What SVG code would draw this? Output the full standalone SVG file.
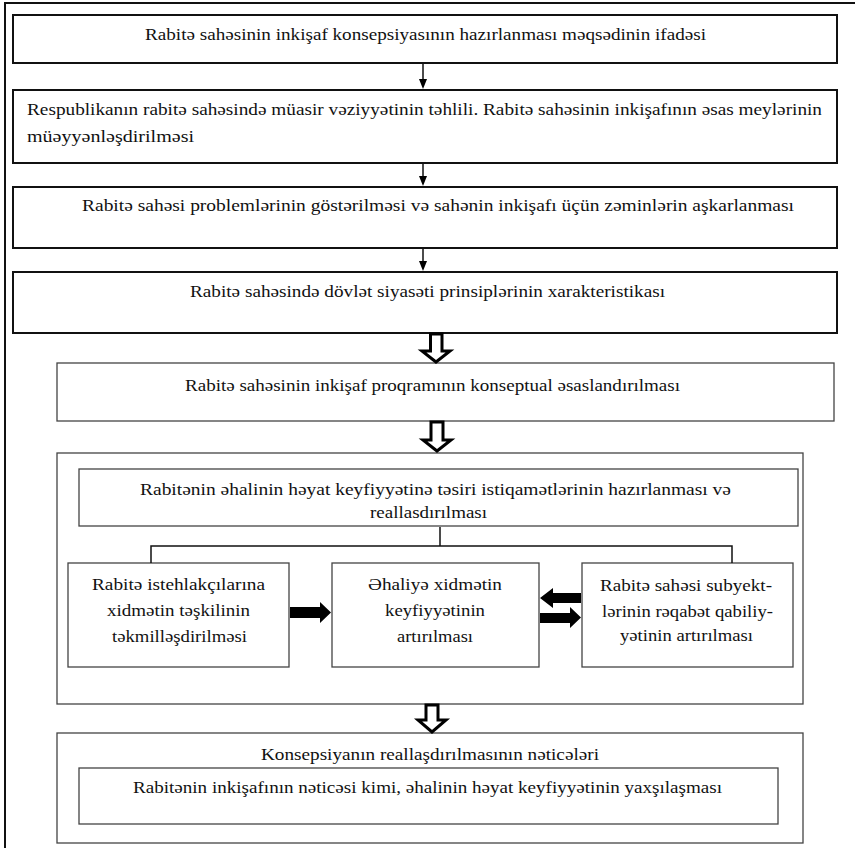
<svg xmlns="http://www.w3.org/2000/svg" width="855" height="852" viewBox="0 0 855 852">
<defs>
<style>
text{font-family:"Liberation Serif","Times New Roman",serif;font-size:17px;fill:#111;}
.b1{fill:#fff;stroke:#111;stroke-width:2;}
.b2{fill:#fff;stroke:#444;stroke-width:1.3;}
.b3{fill:none;stroke:#444;stroke-width:1.3;}
.ln{fill:none;stroke:#111;stroke-width:1.5;}
.ha{fill:#fff;stroke:#000;stroke-width:3;stroke-linejoin:miter;}
.fa{fill:#000;stroke:none;}
</style>
</defs>
<rect width="855" height="852" fill="#fff"/>
<g id="frame">
<path d="M5,848 L5,3 L855,3" fill="none" stroke="#111" stroke-width="2"/>
</g>
<g id="n1">
<rect x="13" y="15" width="824" height="48" class="b1"/>
<text x="145" y="40" textLength="561" lengthAdjust="spacingAndGlyphs">Rabitə sahəsinin inkişaf konsepsiyasının hazırlanması məqsədinin ifadəsi</text>
</g>
<g id="n2">
<rect x="13" y="90" width="824" height="73" class="b1"/>
<text x="27" y="115" textLength="795" lengthAdjust="spacingAndGlyphs">Respublikanın rabitə sahəsində müasir vəziyyətinin təhlili. Rabitə sahəsinin inkişafının əsas meylərinin</text>
<text x="27" y="141.5" textLength="167" lengthAdjust="spacingAndGlyphs">müəyyənləşdirilməsi</text>
</g>
<g id="n3">
<rect x="13" y="187" width="824" height="61" class="b1"/>
<text x="82" y="211" textLength="712" lengthAdjust="spacingAndGlyphs">Rabitə sahəsi problemlərinin göstərilməsi və sahənin inkişafı üçün zəminlərin aşkarlanması</text>
</g>
<g id="n4">
<rect x="13" y="272" width="824" height="61" class="b1"/>
<text x="190" y="296.5" textLength="475" lengthAdjust="spacingAndGlyphs">Rabitə sahəsində dövlət siyasəti prinsiplərinin xarakteristikası</text>
</g>
<g id="n5">
<rect x="57" y="363" width="777" height="58" class="b2"/>
<text x="185" y="391" textLength="495" lengthAdjust="spacingAndGlyphs">Rabitə sahəsinin inkişaf proqramının konseptual əsaslandırılması</text>
</g>
<g id="n6">
<rect x="57" y="453" width="746" height="251" class="b3"/>
</g>
<g id="n6a">
<rect x="79" y="469" width="719" height="57" class="b2"/>
<text x="140" y="495" textLength="591" lengthAdjust="spacingAndGlyphs">Rabitənin əhalinin həyat keyfiyyətinə təsiri istiqamətlərinin hazırlanması və</text>
<text x="370" y="518" textLength="117" lengthAdjust="spacingAndGlyphs">reallasdırılması</text>
</g>
<g id="n6b">
<rect x="68" y="563" width="221" height="104" class="b2"/>
<text x="92" y="590" textLength="173" lengthAdjust="spacingAndGlyphs">Rabitə istehlakçılarına</text>
<text x="107" y="616" textLength="143" lengthAdjust="spacingAndGlyphs">xidmətin təşkilinin</text>
<text x="112" y="641.5" textLength="135" lengthAdjust="spacingAndGlyphs">təkmilləşdirilməsi</text>
</g>
<g id="n6c">
<rect x="332" y="563" width="207" height="104" class="b2"/>
<text x="368" y="590" textLength="134" lengthAdjust="spacingAndGlyphs">Əhaliyə xidmətin</text>
<text x="385" y="616" textLength="100" lengthAdjust="spacingAndGlyphs">keyfiyyətinin</text>
<text x="397" y="641.5" textLength="76" lengthAdjust="spacingAndGlyphs">artırılması</text>
</g>
<g id="n6d">
<rect x="582" y="563" width="211" height="104" class="b2"/>
<text x="600" y="591" textLength="172" lengthAdjust="spacingAndGlyphs">Rabitə sahəsi subyekt-</text>
<text x="602" y="616.5" textLength="171" lengthAdjust="spacingAndGlyphs">lərinin rəqabət qabiliy-</text>
<text x="620" y="640.5" textLength="133" lengthAdjust="spacingAndGlyphs">yətinin artırılması</text>
</g>
<g id="n7">
<rect x="57" y="733" width="746" height="110" class="b2"/>
<text x="261" y="760" textLength="338" lengthAdjust="spacingAndGlyphs">Konsepsiyanın reallaşdırılmasının nəticələri</text>
</g>
<g id="n7a">
<rect x="79" y="768" width="699" height="56" class="b2"/>
<text x="133" y="792.5" textLength="589" lengthAdjust="spacingAndGlyphs">Rabitənin inkişafının nəticəsi kimi, əhalinin həyat keyfiyyətinin yaxşılaşması</text>
</g>
<g id="connectors">
<line x1="423" y1="64" x2="423" y2="80" class="ln"/>
<path d="M419,79 L427,79 L423,89 Z" class="fa"/>
<line x1="423" y1="163" x2="423" y2="177" class="ln"/>
<path d="M419,176 L427,176 L423,186 Z" class="fa"/>
<line x1="423" y1="249" x2="423" y2="262" class="ln"/>
<path d="M419,261 L427,261 L423,271 Z" class="fa"/>
<path d="M430.5,334 L442,334 L442,351 L450,351 L436,362 L422,351 L430.5,351 Z" class="ha"/>
<path d="M431,422 L443,422 L443,440 L451,440 L437,451 L423,440 L431,440 Z" class="ha"/>
<path d="M426,705 L438,705 L438,720 L446,720 L432,732 L418,720 L426,720 Z" class="ha"/>
<path d="M440,527 L440,546 M151,563 L151,546 L732,546 L732,563" class="ln"/>
<path d="M290,607 L320,607 L320,602 L331,612.5 L320,623 L320,618 L290,618 Z" class="fa"/>
<path d="M581,593 L553,593 L553,588 L540,598 L553,608 L553,603 L581,603 Z" class="fa"/>
<path d="M540,613 L570,613 L570,607 L581,617.5 L570,628 L570,623 L540,623 Z" class="fa"/>
</g>
</svg>
